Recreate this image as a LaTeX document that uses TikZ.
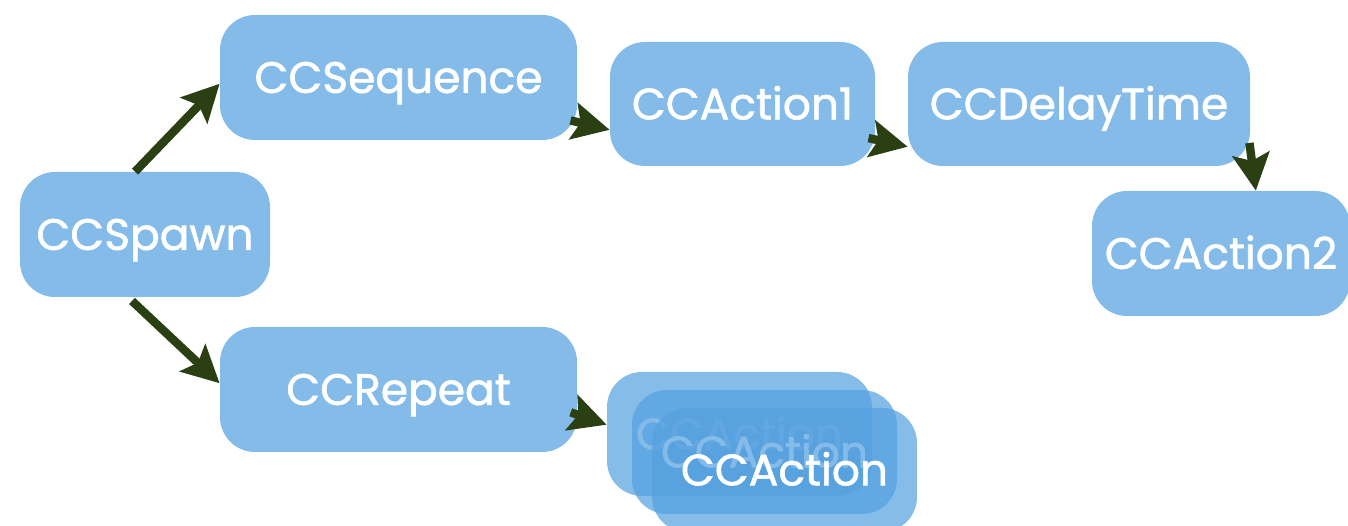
\documentclass[tikz,border=0pt]{standalone}
\usepackage{fontspec}
\setmainfont{Poppins}[FakeBold=1.4]
\usepackage{xcolor}
\usepackage{tikz}
\usetikzlibrary{arrows.meta}
\definecolor{boxblue}{HTML}{85BBE8}
\definecolor{stackblue}{RGB}{84,160,223}
\definecolor{arrowgreen}{HTML}{2A4012}

\begin{document}
\begin{tikzpicture}[
    actbox/.style={fill=boxblue, rounded corners=0.7cm, text=white,
        minimum height=2.5cm, inner sep=0pt, text height=17.5pt, text depth=0pt,
        font=\fontsize{25}{30}\selectfont},
    stackbox/.style={actbox, fill=stackblue, fill opacity=0.71, text opacity=1,
        minimum width=5.3cm, minimum height=2.48cm},
    link/.style={-{Stealth[length=21pt, width=21pt, inset=4pt]}, line width=4.8pt,
        arrowgreen, shorten <=-4pt}
]
    \useasboundingbox (0,0) rectangle (26.96,-10.52);
    \node[actbox, minimum width=5cm] (spawn) at (2.9,-4.69) {CCSpawn};
    \node[actbox, minimum width=7.14cm] (seq) at (7.97,-1.55) {CCSequence};
    \node[actbox, minimum width=5.3cm, minimum height=2.48cm] (act1) at (14.85,-2.08) {CCAction1};
    \node[actbox, minimum width=6.84cm, minimum height=2.48cm] (delay) at (21.58,-2.08) {CCDelayTime};
    \node[actbox, minimum width=5.16cm] (act2) at (24.42,-5.07) {CCAction2};
    \node[actbox, minimum width=7.14cm] (rep) at (7.97,-7.79) {CCRepeat};
    \node[stackbox] (actA) at (14.79,-8.68) {CCAction};
    \node[stackbox] (actB) at (15.29,-9.04) {CCAction};
    \node[stackbox] (actC) at (15.69,-9.40) {CCAction};
    \draw[link, shorten <=0pt] (spawn.99) -- (seq.182);
    \draw[link, shorten <=3pt] (spawn.255) -- (rep.178);
    \draw[link] (seq.-14) -- (act1.191);
    \draw[link] (act1.-15) -- (delay.194);
    \draw[link] (delay.-15) -- (act2.61);
    \draw[link] (rep.-8.5) -- (actA.176);
\end{tikzpicture}
\end{document}
